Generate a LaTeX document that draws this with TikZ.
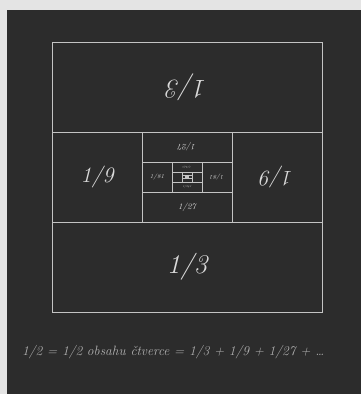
\documentclass[tikz,border=0pt]{standalone}
\usepackage{fontspec}
\begin{document}
\begin{tikzpicture}[x=1pt,y=-1pt,
  grid/.style={draw=linec,line width=0.7pt},
  lab/.style={text=labc,font=\itshape,inner sep=0pt}]
\definecolor{bgc}{HTML}{2C2C2C}
\definecolor{edgec}{HTML}{E4E4E4}
\definecolor{linec}{HTML}{C4C4C4}
\definecolor{labc}{HTML}{DADADA}
\definecolor{capc}{HTML}{B0B0B0}
\useasboundingbox (0,0) rectangle (361,394);
\fill[edgec] (0,0) rectangle (361,394);
\fill[bgc] (7,10) rectangle (361,394);
% outer square
\draw[grid] (52,42) rectangle (322,312);
% level 0
\draw[grid] (52,132) -- (322,132) (52,222) -- (322,222);
\draw[grid] (142,132) -- (142,222) (232,132) -- (232,222);
% level 1
\draw[grid] (142,162) -- (232,162) (142,192) -- (232,192);
\draw[grid] (172,162) -- (172,192) (202,162) -- (202,192);
% level 2
\draw[grid,line width=0.5pt] (172,172) -- (202,172) (172,182) -- (202,182);
\draw[grid,line width=0.5pt] (182,172) -- (182,182) (192,172) -- (192,182);
% level 3
\draw[grid,line width=0.4pt] (182,175.33) -- (192,175.33) (182,178.67) -- (192,178.67);
\draw[grid,line width=0.4pt] (185.33,175.33) -- (185.33,178.67) (188.67,175.33) -- (188.67,178.67);
\fill[linec] (186.2,176.2) rectangle (187.8,177.8);
% labels
\node[lab,font=\itshape\fontsize{27}{27}\selectfont,rotate=180] (t3) at (187,87) {1/3};
\node[lab,font=\itshape\fontsize{27}{27}\selectfont] (b3) at (187,267) {1/3};
\node[lab,font=\itshape\fontsize{22}{22}\selectfont] (l9) at (97,177) {1/9};
\node[lab,font=\itshape\fontsize{22}{22}\selectfont,rotate=180] (r9) at (277,177) {1/9};
\node[lab,font=\itshape\fontsize{8.5}{8.5}\selectfont,rotate=180] (t27) at (187,147) {1/27};
\node[lab,font=\itshape\fontsize{8.5}{8.5}\selectfont] (b27) at (187,207) {1/27};
\node[lab,font=\itshape\fontsize{6}{6}\selectfont] (l81) at (157,177) {1/81};
\node[lab,font=\itshape\fontsize{6}{6}\selectfont,rotate=180] (r81) at (217,177) {1/81};
\node[lab,font=\itshape\fontsize{2.8}{2.8}\selectfont,rotate=180] (t243) at (187,167) {1/243};
\node[lab,font=\itshape\fontsize{2.8}{2.8}\selectfont] (b243) at (187,187) {1/243};
% caption
\node[text=capc,inner sep=0pt,anchor=west,font=\itshape\fontsize{13.5}{13.5}\selectfont] (cap) at (22,352)
  {1/2 = 1/2 obsahu čtverce = 1/3 + 1/9 + 1/27 + \dots};
\end{tikzpicture}
\end{document}
